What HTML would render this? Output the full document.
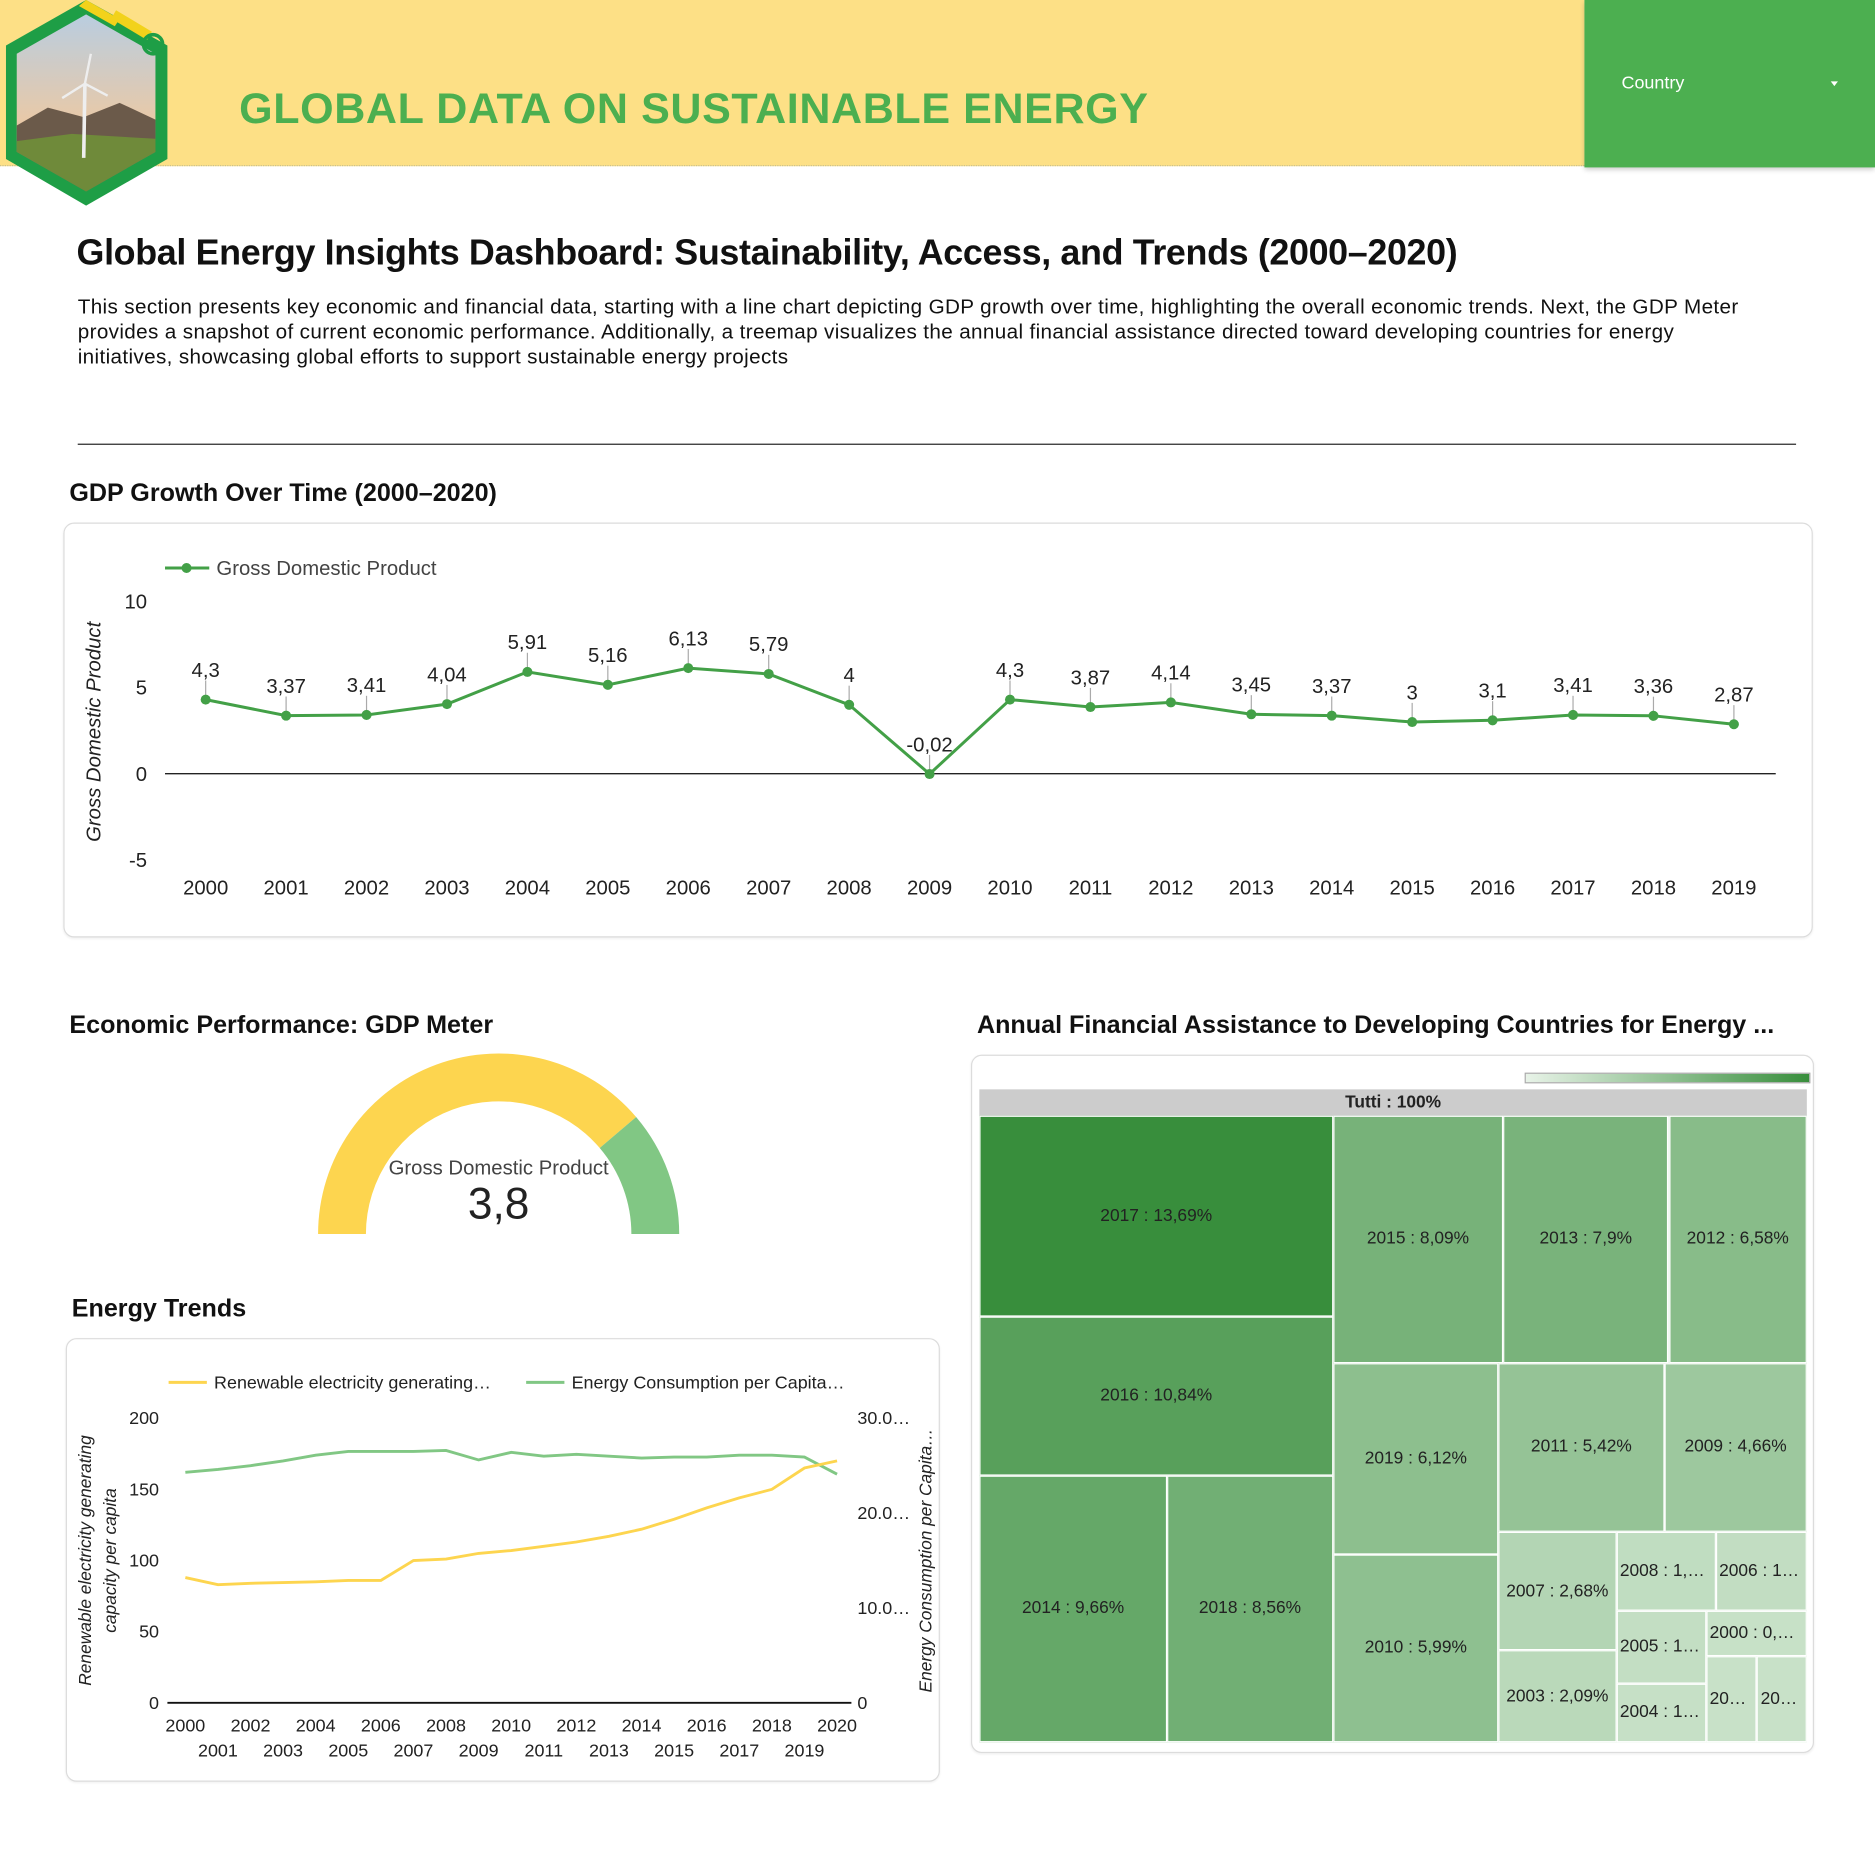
<!DOCTYPE html>
<html><head><meta charset="utf-8">
<style>
html,body{margin:0;padding:0;width:1875px;height:1875px;overflow:hidden;background:#fff;}
#wrap{position:absolute;left:0;top:0;width:1568px;height:1568px;transform:scale(1.19579);transform-origin:0 0;font-family:"Liberation Sans",sans-serif;color:#222;}
.abs{position:absolute;}
.card{position:absolute;border:1px solid #dcdcdc;border-radius:9px;background:#fff;box-shadow:0 1px 2px rgba(0,0,0,0.06);}
.h2{position:absolute;font-weight:bold;font-size:21px;color:#111;white-space:nowrap;}
.tm{position:absolute;box-sizing:border-box;border:1px solid #fff;display:flex;align-items:center;justify-content:center;font-size:14.5px;color:#222;overflow:hidden;}
.tm span{white-space:nowrap;overflow:hidden;text-overflow:ellipsis;max-width:100%;padding:0 2px;}
</style></head><body>
<div id="wrap">
 <div class="abs" style="left:0;top:0;width:1325px;height:138px;background:#fde086;border-bottom:1px dotted #c8c090;"></div>
 <div class="abs" style="left:1325px;top:0;width:243px;height:140px;background:#4caf50;box-shadow:0 2px 4px rgba(0,0,0,0.2);">
  <div class="abs" style="left:31px;top:61px;color:#fff;font-size:15px;">Country</div>
  <div class="abs" style="left:206px;top:68px;width:0;height:0;border-left:3px solid transparent;border-right:3px solid transparent;border-top:4px solid #fff;"></div>
 </div>
 <svg class="abs" style="left:0;top:0" width="145" height="175" viewBox="0 0 145 175">
  <defs><linearGradient id="sky" x1="0" y1="0" x2="0" y2="1"><stop offset="0" stop-color="#b9cde0"/><stop offset="0.6" stop-color="#e8c9a8"/><stop offset="1" stop-color="#c89060"/></linearGradient></defs>
  <polygon points="72,0 140,38 140,133 72,172 5,133 5,38" fill="#1e9e46"/>
  <polygon points="72,12 130,45 130,127 72,160 14,127 14,45" fill="url(#sky)"/>
  <polygon points="14,105 40,90 70,98 100,86 130,100 130,127 72,160 14,127" fill="#6b5a4a"/>
  <polygon points="14,118 60,112 130,116 130,127 72,160 14,127" fill="#6f8a3a"/>
  <line x1="70" y1="132" x2="71" y2="70" stroke="#eee" stroke-width="3"/>
  <line x1="71" y1="70" x2="76" y2="45" stroke="#eee" stroke-width="2"/>
  <line x1="71" y1="70" x2="52" y2="82" stroke="#eee" stroke-width="2"/>
  <line x1="71" y1="70" x2="90" y2="80" stroke="#eee" stroke-width="2"/>
  <polygon points="72,0 100,16 96,22 66,5" fill="#f2d21b"/>
  <line x1="95" y1="12" x2="125" y2="30" stroke="#f2d21b" stroke-width="8"/>
  <circle cx="128" cy="37" r="8" fill="none" stroke="#1e9e46" stroke-width="3"/>
 </svg>
 <div class="abs" style="left:200px;top:70px;font-size:36px;font-weight:bold;color:#4caf50;white-space:nowrap;letter-spacing:0.5px;">GLOBAL DATA ON SUSTAINABLE ENERGY</div>
 <div class="abs" style="left:64px;top:195px;font-size:30px;font-weight:bold;color:#111;white-space:nowrap;letter-spacing:-0.3px;">Global Energy Insights Dashboard: Sustainability, Access, and Trends (2000–2020)</div>
 <div class="abs" style="left:65px;top:246px;width:1400px;font-size:17.3px;letter-spacing:0.3px;line-height:21px;color:#111;">This section presents key economic and financial data, starting with a line chart depicting GDP growth over time, highlighting the overall economic trends. Next, the GDP Meter provides a snapshot of current economic performance. Additionally, a treemap visualizes the annual financial assistance directed toward developing countries for energy initiatives, showcasing global efforts to support sustainable energy projects</div>
 <div class="abs" style="left:65px;top:371px;width:1437px;height:1px;background:#222;"></div>

 <div class="h2" style="left:58px;top:401px;">GDP Growth Over Time (2000–2020)</div>
 <div class="card" style="left:53px;top:437px;width:1461px;height:345px;"></div>
 <svg class="abs" id="gdp" style="left:0;top:0" width="1568" height="800"></svg>

 <div class="h2" style="left:58px;top:846px;">Economic Performance: GDP Meter</div>
 <svg class="abs" id="gauge" style="left:0;top:860px" width="800" height="200"></svg>

 <div class="h2" style="left:60px;top:1083px;">Energy Trends</div>
 <div class="card" style="left:55px;top:1119px;width:729px;height:369px;"></div>
 <svg class="abs" id="trend" style="left:0;top:0" width="800" height="1500"></svg>

 <div class="h2" style="left:817px;top:846px;">Annual Financial Assistance to Developing Countries for Energy ...</div>
 <div class="card" style="left:812px;top:882px;width:703px;height:582px;"></div>
 <div class="abs" style="left:1275px;top:897px;width:237px;height:7px;border:1px solid #aaa;background:linear-gradient(to right,#e8f3e8,#388e3c);"></div>
 <div class="abs" style="left:819px;top:911px;width:692px;height:22px;background:#cccccc;font-size:14.5px;font-weight:bold;text-align:center;line-height:22px;color:#222;">Tutti : 100%</div>
 <div class="abs" id="treemap" style="left:819px;top:933px;width:692px;height:524px;"></div>
</div>
<script>
const NS='http://www.w3.org/2000/svg';
function mk(parent,tag,attrs,text){const e=document.createElementNS(NS,tag);for(const k in attrs)e.setAttribute(k,attrs[k]);if(text!==undefined)e.textContent=text;parent.appendChild(e);return e;}

/* ---------- GDP line chart ---------- */
const gdpYears=[2000,2001,2002,2003,2004,2005,2006,2007,2008,2009,2010,2011,2012,2013,2014,2015,2016,2017,2018,2019];
const gdpValues=[4.3,3.37,3.41,4.04,5.91,5.16,6.13,5.79,4,-0.02,4.3,3.87,4.14,3.45,3.37,3,3.1,3.41,3.36,2.87];
const gdpTicks=[10,5,0,-5];
(function(){
 const s=document.getElementById('gdp');
 const x=i=>172+i*(1450-172)/(gdpYears.length-1);
 const y=v=>647-v*14.4;
 const fmt=v=>String(v).replace('.',',');
 gdpTicks.forEach(t=>{const e=mk(s,'text',{x:123,y:y(t)+6,'text-anchor':'end','font-size':17,fill:'#222'},t);
 
 });
 const zl=mk(s,'line',{x1:138,x2:1485,y1:y(0),y2:y(0),stroke:'#222','stroke-width':1.2});
 
 
 const yt=mk(s,'text',{transform:'translate(84,612) rotate(-90)','text-anchor':'middle','font-size':17,'font-style':'italic',fill:'#222'},'Gross Domestic Product');
 
 
 gdpYears.forEach((yr,i)=>{const e=mk(s,'text',{x:x(i),y:748,'text-anchor':'middle','font-size':17,fill:'#222'},yr);
 
 });
 const pts=gdpValues.map((v,i)=>x(i)+','+y(v)).join(' ');
 const pl=mk(s,'polyline',{points:pts,fill:'none',stroke:'#43a047','stroke-width':2.5});
 
 
 gdpValues.forEach((v,i)=>{
  mk(s,'line',{x1:x(i),x2:x(i),y1:y(v)-4,y2:y(v)-16,stroke:'#aaa','stroke-width':1});
  const c=mk(s,'circle',{cx:x(i),cy:y(v),r:4.2,fill:'#43a047'});
  
  
  const t=mk(s,'text',{x:x(i),y:y(v)-19,'text-anchor':'middle','font-size':17,fill:'#222'},fmt(v));
  
  
 });
 const lg=mk(s,'g',{});
 
 
 mk(lg,'line',{x1:138,x2:175,y1:475,y2:475,stroke:'#43a047','stroke-width':2.5});
 mk(lg,'circle',{cx:156,cy:475,r:4.2,fill:'#43a047'});
 mk(lg,'text',{x:181,y:481,'font-size':17,fill:'#444'},'Gross Domestic Product');
})();

/* ---------- Gauge ---------- */
const gaugeValue=[3.8];
const gaugeMax=[4.9];
(function(){
 const s=document.getElementById('gauge');
 const cx=417,cy=172,R=151,r=111;
 const frac=Math.min(1,gaugeValue[0]/gaugeMax[0]);
 function arc(a0,a1,col,name){
  const p=(a,rad)=>[cx+rad*Math.cos(a),cy-rad*Math.sin(a)];
  const [x0,y0]=p(a0,R),[x1,y1]=p(a1,R),[x2,y2]=p(a1,r),[x3,y3]=p(a0,r);
  const e=mk(s,'path',{d:`M${x0},${y0} A${R},${R} 0 0 1 ${x1},${y1} L${x2},${y2} A${r},${r} 0 0 0 ${x3},${y3} Z`,fill:col});
  
  
 }
 const split=Math.PI*(1-frac);
 arc(Math.PI,split,'#fdd54f','gauge-value-arc');
 arc(split,0,'#81c784','gauge-remaining-arc');
 const l=mk(s,'text',{x:cx,y:122,'text-anchor':'middle','font-size':17,fill:'#444'},'Gross Domestic Product');
 
 
 const v=mk(s,'text',{x:cx,y:159,'text-anchor':'middle','font-size':37,fill:'#222'},String(gaugeValue[0]).replace('.',','));
 
 
})();

/* ---------- Energy trends ---------- */
const trendYears=[2000,2001,2002,2003,2004,2005,2006,2007,2008,2009,2010,2011,2012,2013,2014,2015,2016,2017,2018,2019,2020];
const renewableValues=[88,83,84,84.5,85,86,86,100,101,105,107,110,113,117,122,129,137,144,150,165,170];
const consumptionValues=[24.3,24.6,25.0,25.5,26.1,26.5,26.5,26.5,26.6,25.6,26.4,26.0,26.2,26.0,25.8,25.9,25.9,26.1,26.1,25.9,24.1];
const leftTicks=[0,50,100,150,200];
const rightTicks=['0','10.0…','20.0…','30.0…'];
const rightTickValues=[0,10,20,30];
(function(){
 const s=document.getElementById('trend');
 const x=i=>155+i*(700-155)/(trendYears.length-1);
 const yl=v=>1424-v*(1424-1186)/200;
 const yr=v=>1424-v*(1424-1186)/30;
 leftTicks.forEach(t=>{const e=mk(s,'text',{x:133,y:yl(t)+5,'text-anchor':'end','font-size':15,fill:'#222'},t);
 
 });
 rightTickValues.forEach((t,i)=>{const e=mk(s,'text',{x:717,y:yr(t)+5,'font-size':15,fill:'#222'},rightTicks[i]);
 
 });
 const ax=mk(s,'line',{x1:140,x2:712,y1:1424,y2:1424,stroke:'#111','stroke-width':1.5});
 
 
 trendYears.forEach((yr_,i)=>{const e=mk(s,'text',{x:x(i),y:i%2===0?1448:1469,'text-anchor':'middle','font-size':15,fill:'#222'},yr_);
 
 });
 const lt=mk(s,'text',{transform:'translate(76,1305) rotate(-90)','text-anchor':'middle','font-size':14.5,'font-style':'italic',fill:'#222'},'Renewable electricity generating');
 
 
 const lt2=mk(s,'text',{transform:'translate(97,1305) rotate(-90)','text-anchor':'middle','font-size':14.5,'font-style':'italic',fill:'#222'},'capacity per capita');
 
 
 const rt=mk(s,'text',{transform:'translate(779,1305) rotate(-90)','text-anchor':'middle','font-size':14.5,'font-style':'italic',fill:'#222'},'Energy Consumption per Capita…');
 
 
 const g=mk(s,'polyline',{points:consumptionValues.map((v,i)=>x(i)+','+yr(v)).join(' '),fill:'none',stroke:'#81c784','stroke-width':2.4});
 
 
 const yline=mk(s,'polyline',{points:renewableValues.map((v,i)=>x(i)+','+yl(v)).join(' '),fill:'none',stroke:'#fdd54f','stroke-width':2.4});
 
 
 const l1=mk(s,'g',{});
 
 
 mk(l1,'line',{x1:141,x2:173,y1:1156,y2:1156,stroke:'#fdd54f','stroke-width':2.5});
 mk(l1,'text',{x:179,y:1161,'font-size':15,fill:'#222'},'Renewable electricity generating…');
 const l2=mk(s,'g',{});
 
 
 mk(l2,'line',{x1:440,x2:472,y1:1156,y2:1156,stroke:'#81c784','stroke-width':2.5});
 mk(l2,'text',{x:478,y:1161,'font-size':15,fill:'#222'},'Energy Consumption per Capita…');
})();

/* ---------- Treemap ---------- */
const tmYears=[2017,2016,2014,2018,2015,2013,2012,2019,2010,2011,2009,2007,2003,2008,2006,2005,2004,2000,2001,2002];
const tmValues=[13.69,10.84,9.66,8.56,8.09,7.9,6.58,6.12,5.99,5.42,4.66,2.68,2.09,1.5,1.38,1.26,1.02,0.88,0.85,0.83];
const tmLabels=['13,69%','10,84%','9,66%','8,56%','8,09%','7,9%','6,58%','6,12%','5,99%','5,42%','4,66%','2,68%','2,09%','1,5%','1,38%','1,26%','1,02%','0,88%','0,85%','0,83%'];
/* layout tree: 'h' = split left-right, 'v' = split top-bottom; numbers = item index */
const tmTree=['h',[['v',[0,1,['h',[2,3]]]],['v',[['h',[4,5,6]],['h',[['v',[7,8]],['v',[['h',[9,10]],['h',[['v',[11,12]],['v',[['h',[13,14]],['h',[['v',[15,16]],['v',[17,['h',[18,19]]]]]]]]]]]]]]]]]];
(function(){
 const host=document.getElementById('treemap');
 const W=692,H=524;
 const minV=Math.min(...tmValues),maxV=Math.max(...tmValues);
 const lo=[200,225,200],hi=[56,142,60];
 const col=v=>{const t=(v-minV)/(maxV-minV);return 'rgb('+lo.map((c,k)=>Math.round(c+(hi[k]-c)*t)).join(',')+')';};
 const sum=n=>typeof n==='number'?tmValues[n]:n[1].reduce((a,c)=>a+sum(c),0);
 function lay(n,x,y,w,h){
  if(typeof n==='number'){
   const d=document.createElement('div');
   d.className='tm';
   
   
   d.style.left=x+'px';d.style.top=y+'px';d.style.width=w+'px';d.style.height=h+'px';
   d.style.background=col(tmValues[n]);
   const sp=document.createElement('span');
   sp.textContent=tmYears[n]+' : '+tmLabels[n];
   d.appendChild(sp);host.appendChild(d);return;
  }
  const tot=sum(n);let off=0;
  n[1].forEach(c=>{const f=sum(c)/tot;
   if(n[0]==='h'){lay(c,x+off,y,w*f,h);off+=w*f;}
   else{lay(c,x,y+off,w,h*f);off+=h*f;}});
 }
 lay(tmTree,0,0,W,H);
})();
</script>
</body></html>
